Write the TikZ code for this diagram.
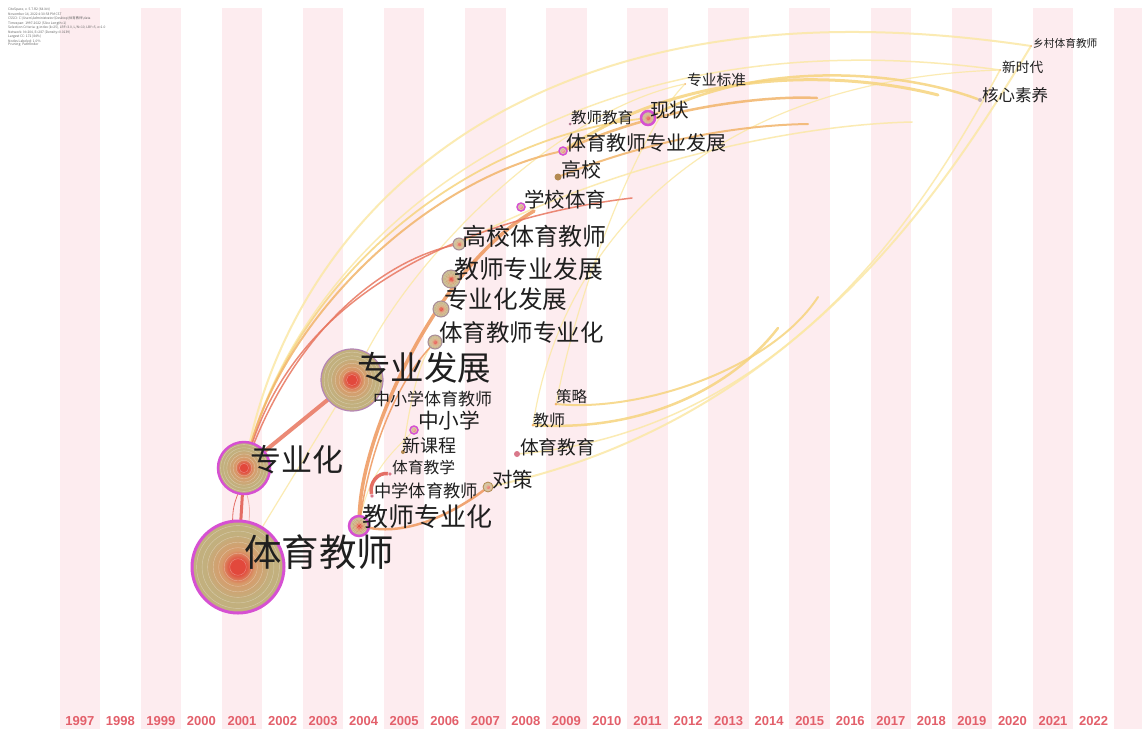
\documentclass[tikz,border=0pt]{standalone}
\usepackage{fontspec}
\setmainfont{Liberation Sans}
\newfontfamily\cjk{Noto Sans CJK SC}

\definecolor{stripe}{HTML}{FDECEF}
\definecolor{yearred}{HTML}{E3606B}
\definecolor{kwtan}{HTML}{C2B07E}
\definecolor{kwmid}{HTML}{D89A6A}
\definecolor{kwred}{HTML}{E2483C}
\definecolor{kwmag}{HTML}{D650D2}
\definecolor{kwlila}{HTML}{B586B4}
\definecolor{kwgrey}{HTML}{A88C98}
\definecolor{kwbrown}{HTML}{B48A52}
\definecolor{kwpink}{HTML}{D9788A}
\definecolor{kwmauve}{HTML}{B07890}
\definecolor{lkpale}{HTML}{FBE8A6}
\definecolor{lkyel}{HTML}{F6D47E}
\definecolor{lkora}{HTML}{F2B46A}
\definecolor{lkdeep}{HTML}{EE975C}
\definecolor{lksal}{HTML}{E8765F}
\definecolor{lkred}{HTML}{E0564C}

\pgfdeclareradialshading{kwshade}{\pgfpoint{0bp}{0bp}}{color(0bp)=(kwred); color(4bp)=(kwred); color(9bp)=(kwmid); color(18bp)=(kwtan); color(50bp)=(kwtan)}

\pgfdeclarelayer{stripes}
\pgfdeclarelayer{links}
\pgfsetlayers{stripes,links,main}

\begin{document}
\begin{tikzpicture}[x=1pt, y=-1pt,
	kw/.style={circle, inner sep=0pt, minimum size=#1, shading=kwshade,
		path picture={\foreach \k in {0.18,0.3,...,0.95}
			\draw[white, opacity=0.35, line width=0.4] (path picture bounding box.center) circle ({\k*#1/2});}},
	dot/.style={circle, inner sep=0pt, minimum size=#1},
	lbl/.style={anchor=west, inner sep=0pt, text=black!88, font=\cjk\fontsize{#1}{#1}\selectfont},
	lk/.style={draw=#1, line cap=round, opacity=0.85},
	yr/.style={inner sep=0pt, text=yearred, font=\bfseries\fontsize{13}{13}\selectfont}]

	\useasboundingbox (0,0) rectangle (1142,729);

	\begin{pgfonlayer}{stripes}
		\fill[white] (0,0) rectangle (1142,729);
		\foreach \i in {0,2,...,26}
			\fill[stripe] ({59.5+\i*40.55},8) rectangle ({min(59.5+(\i+1)*40.55,1142)},729);
	\end{pgfonlayer}

	\foreach \yr [count=\i from 0] in {1997,...,2022}
		\node[yr] (y\yr) at ({79.8+\i*40.55},721) {\yr};

	\node[anchor=north west, inner sep=0pt, align=left, text=black!60, font=\cjk\fontsize{3.3}{3.2}\selectfont] (info) at (8,8)
		{CiteSpace, v. 5.7.R2 (64-bit)\\
		November 14, 2022 4:30:58 PM CST\\
		CSSCI: C:\textbackslash Users\textbackslash Administrator\textbackslash Desktop\textbackslash 体育教师\textbackslash data\\
		Timespan: 1997-2022 (Slice Length=1)\\
		Selection Criteria: g-index (k=25), LRF=3.0, L/N=10, LBY=5, e=1.0\\
		Network: N=204, E=287 (Density=0.0139)\\
		Largest CC: 172 (84\%)\\
		Nodes Labeled: 1.0\%\\
		Pruning: Pathfinder};

	% keywords
	\node[kw=92, draw=kwmag, line width=3] (tyjs) at (238,567) {};
	\node[kw=52, draw=kwmag, line width=2.5] (zyh) at (244,468) {};
	\node[kw=62, draw=kwlila, line width=1.2] (zyfz) at (352,380) {};
	\node[kw=20, draw=kwmag, line width=2.5] (jszyh) at (359,526) {};
	\node[kw=14, draw=kwgrey, line width=1] (tyjszyh) at (435,342) {};
	\node[kw=16, draw=kwgrey, line width=1] (zyhfz) at (441,309) {};
	\node[kw=18, draw=kwgrey, line width=1] (jszyfz) at (451,279) {};
	\node[kw=12, draw=kwgrey, line width=1] (gxtyjs) at (459,244) {};
	\node[kw=8, draw=kwmag, line width=1.5] (xxty) at (521,207) {};
	\node[dot=7, fill=kwbrown] (gx) at (558,177) {};
	\node[kw=8, draw=kwmag, line width=1.5] (tyjszyfz) at (563,151) {};
	\node[dot=3, fill=kwmauve] (jsjy) at (570,124) {};
	\node[kw=14, draw=kwmag, line width=2.5] (xz) at (648,118) {};
	\node[dot=2, fill=lkora] (zybz) at (685,84) {};
	\node[dot=2, fill=lkora] (zxxtyjs) at (372,401) {};
	\node[kw=8, draw=kwmag, line width=1.5] (zxx) at (414,430) {};
	\node[dot=4, fill=kwbrown] (xkc) at (403,452) {};
	\node[dot=4, fill=kwpink, draw=white, line width=0.5] (tyjx) at (390,474) {};
	\node[dot=4, fill=kwpink, draw=white, line width=0.5] (zxtyjs) at (372,496) {};
	\node[kw=10, draw=kwbrown, line width=0.8] (dc) at (488,487) {};
	\node[dot=6, fill=kwpink] (tyjy) at (517,454) {};
	\node[dot=3, fill=lkora] (js) at (533,425) {};
	\node[dot=3, fill=lkora] (cl) at (556,404) {};
	\node[dot=4, fill=kwgrey!70] (hxsy) at (980,100) {};
	\node[dot=2, fill=lkora] (xsd) at (1000,70) {};
	\node[dot=2, fill=lkora] (xctyjs) at (1031,46) {};

	\node[lbl=37.5] (tyjs-l) at (244,552) {体育教师};
	\node[lbl=31] (zyh-l) at (250,460) {专业化};
	\node[lbl=33.5] (zyfz-l) at (357,368) {专业发展};
	\node[lbl=26] (jszyh-l) at (362,517) {教师专业化};
	\node[lbl=23.5] (tyjszyh-l) at (439,333) {体育教师专业化};
	\node[lbl=24.6] (zyhfz-l) at (444,299) {专业化发展};
	\node[lbl=24.8] (jszyfz-l) at (454,269) {教师专业发展};
	\node[lbl=24] (gxtyjs-l) at (462,236) {高校体育教师};
	\node[lbl=20.5] (xxty-l) at (524,200) {学校体育};
	\node[lbl=20] (gx-l) at (561,170) {高校};
	\node[lbl=20] (tyjszyfz-l) at (566,143) {体育教师专业发展};
	\node[lbl=15.5] (jsjy-l) at (571,118) {教师教育};
	\node[lbl=19.5] (xz-l) at (650,110) {现状};
	\node[lbl=14.75] (zybz-l) at (687,80) {专业标准};
	\node[lbl=17] (zxxtyjs-l) at (373,399) {中小学体育教师};
	\node[lbl=20.7] (zxx-l) at (418,421) {中小学};
	\node[lbl=18] (xkc-l) at (402,446) {新课程};
	\node[lbl=15.75] (tyjx-l) at (392,467) {体育教学};
	\node[lbl=17.3] (zxtyjs-l) at (374,491) {中学体育教师};
	\node[lbl=20.5] (dc-l) at (492,480) {对策};
	\node[lbl=18.75] (tyjy-l) at (520,447) {体育教育};
	\node[lbl=16] (js-l) at (533,420) {教师};
	\node[lbl=15.5] (cl-l) at (556,397) {策略};
	\node[lbl=16.5] (hxsy-l) at (982,95) {核心素养};
	\node[lbl=13.7] (xsd-l) at (1002,67) {新时代};
	\node[lbl=10.7] (xctyjs-l) at (1033,43) {乡村体育教师};

	% free ends of links
	\coordinate (ea) at (817,98);
	\coordinate (eb) at (808,124);
	\coordinate (ec) at (912,122);
	\coordinate (ed) at (938,95);
	\coordinate (ejs) at (778,328);
	\coordinate (ecl) at (818,297);
	\coordinate (exx) at (534,211);
	\coordinate (esal) at (632,198);

	\begin{pgfonlayer}{links}
		\draw[lk=lkpale, line width=1.2] (tyjs) -- (zyfz);
		\draw[lk=lkpale, line width=2] (zyh) .. controls (300,220) and (520,-30) .. (xctyjs);
		\draw[lk=lkpale, line width=1.5] (zyh) .. controls (310,240) and (560,10) .. (xsd);
		\draw[lk=lkpale, line width=2] (xctyjs) .. controls (950,180) and (800,420) .. (dc);
		\draw[lk=lkpale, line width=1.5] (xsd) .. controls (930,200) and (790,430) .. (tyjy);
		\draw[lk=lkpale, line width=1.2] (js) .. controls (560,250) and (700,80) .. (xsd);
		\draw[lk=lkpale, line width=1.2] (cl) .. controls (580,280) and (640,130) .. (zybz);
		\draw[lk=lkpale, line width=1.2] (xkc) .. controls (410,400) and (420,360) .. (tyjszyh);
		\draw[lk=lkpale, line width=1] (jszyh) .. controls (370,470) and (395,450) .. (zxx);
		\draw[lk=lkpale, line width=1.5] (gxtyjs) .. controls (600,170) and (780,125) .. (ec);
		\draw[lk=lkpale, line width=1.2] (zyfz) .. controls (420,250) and (560,110) .. (zybz);
		\draw[lk=lkyel, line width=1.8] (zyh) .. controls (300,280) and (460,140) .. (xz);
		\draw[lk=lkyel, line width=3] (tyjszyfz) .. controls (700,60) and (860,75) .. (ed);
		\draw[lk=lkyel, line width=2.5] (xz) .. controls (760,60) and (900,70) .. (hxsy);
		\draw[lk=lkyel, line width=2.5] (js) .. controls (640,432) and (730,390) .. (ejs);
		\draw[lk=lkyel, line width=2] (cl) .. controls (640,412) and (770,370) .. (ecl);
		\draw[lk=lkora, line width=2] (zyh) .. controls (290,310) and (430,180) .. (tyjszyfz);
		\draw[lk=lkora, line width=2.5] (tyjszyfz) .. controls (650,110) and (760,95) .. (ea);
		\draw[lk=lkora, line width=2] (gx) .. controls (650,140) and (740,125) .. (eb);
		\draw[lk=lkdeep, line width=3.5] (jszyh) .. controls (362,430) and (440,265) .. (exx);
		\draw[lk=lkdeep, line width=1.5] (jszyh) .. controls (372,440) and (400,380) .. (tyjszyh);
		\draw[lk=lkdeep, line width=2.5] (jszyh) .. controls (410,535) and (455,512) .. (dc);
		\draw[lk=lksal, line width=1.5] (zyh) .. controls (300,300) and (450,220) .. (esal);
		\draw[lk=lksal, line width=1.5] (zyh) .. controls (300,330) and (380,262) .. (gxtyjs);
		\draw[lk=lksal, line width=4] (zyh) -- (zyfz);
		\draw[lk=lkred, line width=3] (zyh) -- (tyjs);
		\draw[lk=lkred, line width=0.8] (zyh) to[bend right=10] (tyjs);
		\draw[lk=lkred!50, line width=0.8] (zyh) to[bend left=10] (tyjs);
		\draw[lk=lkred, line width=3.5] (zxtyjs) .. controls (369,483) and (378,472) .. (tyjx);
	\end{pgfonlayer}
\end{tikzpicture}
\end{document}
